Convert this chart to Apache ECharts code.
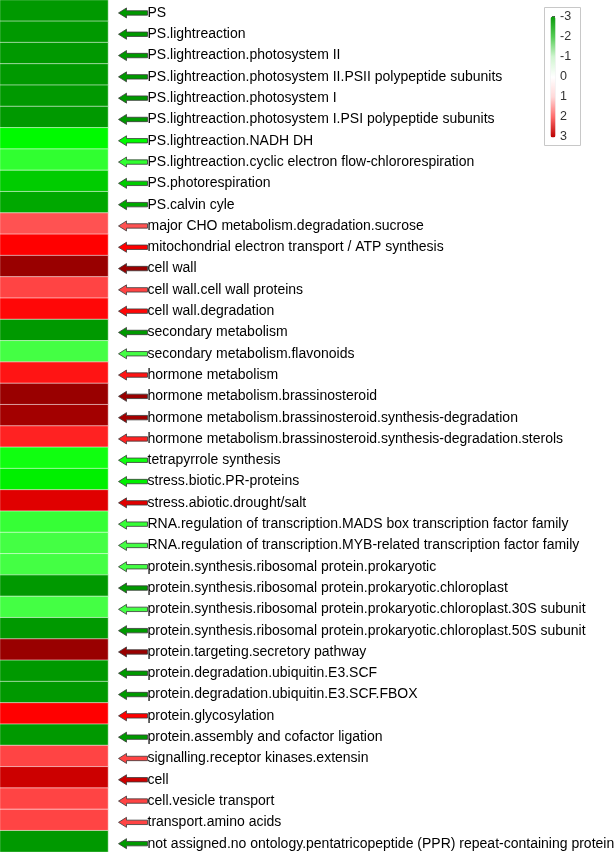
<!DOCTYPE html>
<html>
<head>
<meta charset="utf-8">
<script src="https://cdn.jsdelivr.net/npm/echarts@6/dist/echarts.min.js"></script>
<style>html,body{margin:0;padding:0;background:#fff}#c{width:615px;height:852px}</style>
</head>
<body>
<div id="c"></div>
<script>
const categories = [
  'PS',
  'PS.lightreaction',
  'PS.lightreaction.photosystem II',
  'PS.lightreaction.photosystem II.PSII polypeptide subunits',
  'PS.lightreaction.photosystem I',
  'PS.lightreaction.photosystem I.PSI polypeptide subunits',
  'PS.lightreaction.NADH DH',
  'PS.lightreaction.cyclic electron flow-chlororespiration',
  'PS.photorespiration',
  'PS.calvin cyle',
  'major CHO metabolism.degradation.sucrose',
  'mitochondrial electron transport / ATP synthesis',
  'cell wall',
  'cell wall.cell wall proteins',
  'cell wall.degradation',
  'secondary metabolism',
  'secondary metabolism.flavonoids',
  'hormone metabolism',
  'hormone metabolism.brassinosteroid',
  'hormone metabolism.brassinosteroid.synthesis-degradation',
  'hormone metabolism.brassinosteroid.synthesis-degradation.sterols',
  'tetrapyrrole synthesis',
  'stress.biotic.PR-proteins',
  'stress.abiotic.drought/salt',
  'RNA.regulation of transcription.MADS box transcription factor family',
  'RNA.regulation of transcription.MYB-related transcription factor family',
  'protein.synthesis.ribosomal protein.prokaryotic',
  'protein.synthesis.ribosomal protein.prokaryotic.chloroplast',
  'protein.synthesis.ribosomal protein.prokaryotic.chloroplast.30S subunit',
  'protein.synthesis.ribosomal protein.prokaryotic.chloroplast.50S subunit',
  'protein.targeting.secretory pathway',
  'protein.degradation.ubiquitin.E3.SCF',
  'protein.degradation.ubiquitin.E3.SCF.FBOX',
  'protein.glycosylation',
  'protein.assembly and cofactor ligation',
  'signalling.receptor kinases.extensin',
  'cell',
  'cell.vesicle transport',
  'transport.amino acids',
  'not assigned.no ontology.pentatricopeptide (PPR) repeat-containing protein'
];
const values = [
  -3, -3, -3, -3, -3, -3, -2.05, -1.65, -2.5, -2.85,
  1.4, 2.0, 3.0, 1.5, 1.95, -3, -1.5, 1.85, 3.0, 2.9,
  1.75, -1.88, -2.15, 2.3, -1.6, -1.5, -1.5, -3, -1.5, -3,
  3.0, -3, -3, 2.0, -3, 1.5, 2.5, 1.5, 1.5, -3
];
const legendTicks = [-3, -2, -1, 0, 1, 2, 3];
const cellColors = ['#009900', '#00ff00', '#88ff88', '#ffffff', '#ff8888', '#ff0000', '#990000'];
const legendColors = ['#0a9a0a', '#55cc55', '#d0f5d0', '#ffffff', '#ffd8d8', '#ff6a6a', '#bb0000'];

const data = values.map((v, i) => [0, i, v]);
const chart = echarts.init(document.getElementById('c'), null, {renderer: 'canvas'});
const font = "'Liberation Sans', Arial, sans-serif";

chart.setOption({
  animation: false,
  backgroundColor: '#ffffff',
  grid: [
    {left: 0, top: 0, width: 108, height: 852, outerBoundsMode: 'none', containLabel: false},
    {left: 552, top: 16.5, width: 5, height: 120, outerBoundsMode: 'none', containLabel: false}
  ],
  xAxis: [
    {type: 'category', data: [''], gridIndex: 0, show: false},
    {type: 'value', gridIndex: 1, show: false}
  ],
  yAxis: [
    {
      type: 'category', data: categories, inverse: true, position: 'right', gridIndex: 0,
      axisLine: {show: false}, axisTick: {show: false}, splitLine: {show: false},
      axisLabel: {show: false}
    },
    {
      type: 'value', gridIndex: 1, min: -3, max: 3, interval: 1, inverse: true, position: 'right',
      axisLine: {show: false}, splitLine: {show: false},
      axisTick: {show: true, length: 3, lineStyle: {color: '#444'}},
      axisLabel: {margin: 3, fontSize: 12.5, fontFamily: font, color: '#333',
        formatter: v => String(legendTicks.find(t => t === v))}
    }
  ],
  visualMap: {
    type: 'continuous', min: -3, max: 3, dimension: 2, seriesIndex: [0, 1],
    orient: 'vertical', inverse: true, calculable: false, text: null,
    left: 544, top: 7, itemWidth: 5, itemHeight: 121,
    padding: [9, 25, 8, 6], borderColor: '#c8c8c8', borderWidth: 1,
    inRange: {color: cellColors},
    controller: {inRange: {color: legendColors}}
  },
  series: [
    {
      type: 'heatmap', xAxisIndex: 0, yAxisIndex: 0, data: data,
      itemStyle: {borderColor: 'rgba(255,255,255,0.55)', borderWidth: 1},
      emphasis: {disabled: true}
    },
    {
      type: 'custom', xAxisIndex: 0, yAxisIndex: 0, data: data,
      encode: {x: 0, y: 1},
      renderItem: function (params, api) {
        const idx = api.value(1);
        const c = api.coord([0, idx]);
        const s = api.size([1, 1]);
        const x0 = c[0] + s[0] / 2 + 10.5;
        const y = c[1] + 2.3;
        return {
          type: 'group',
          children: [
            {
              type: 'polygon',
              shape: {points: [[x0, y], [x0 + 8, y - 5], [x0 + 8, y - 2.2], [x0 + 29, y - 2.2],
                               [x0 + 29, y + 2.2], [x0 + 8, y + 2.2], [x0 + 8, y + 5]]},
              style: {fill: api.visual('color'), stroke: '#3a3a3a', lineWidth: 0.8}
            },
            {
              type: 'text', x: x0 + 29, y: y,
              style: {text: categories[idx], fontSize: 14, fontFamily: font, fill: '#000',
                      align: 'left', verticalAlign: 'middle'}
            }
          ]
        };
      }
    }
  ]
});
</script>
</body>
</html>
